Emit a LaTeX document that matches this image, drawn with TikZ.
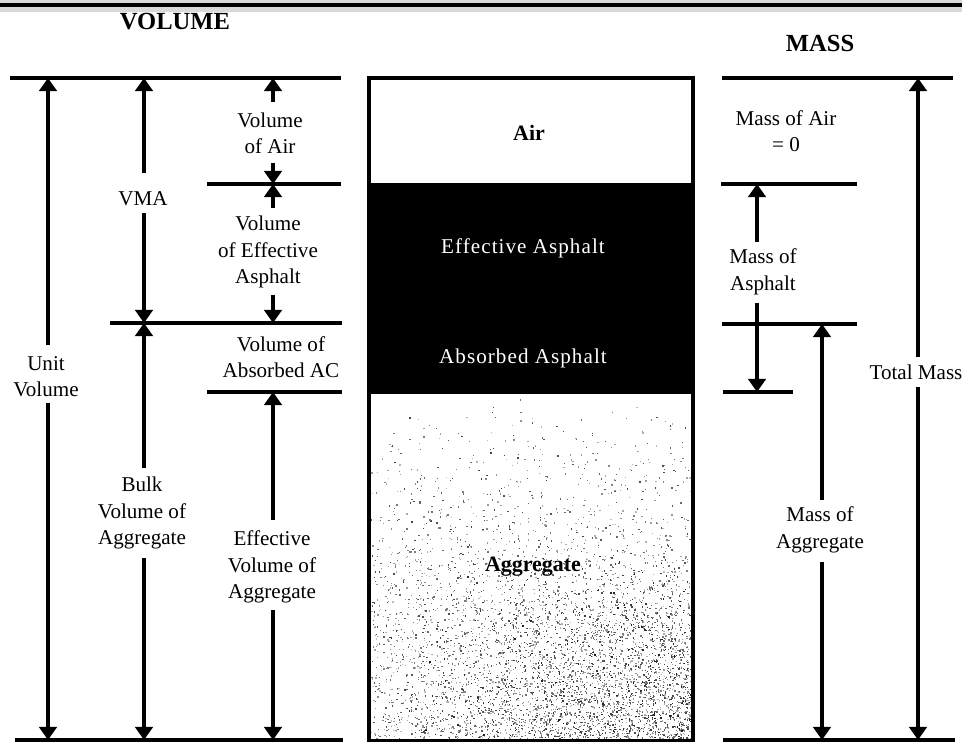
\documentclass[tikz,border=0pt]{standalone}
\usepackage{fontspec}
\setmainfont{Liberation Serif}
\usetikzlibrary{arrows.meta}
\begin{document}
\begin{tikzpicture}[x=0.02cm,y=-0.02cm,
  rule/.style={line width=2.6pt},
  arr/.style={line width=2.3pt,-{Triangle[width=10pt,length=7.5pt]}},
  lbl/.style={align=center,inner sep=0pt,font=\fontsize{12}{15}\selectfont},
  ttl/.style={inner sep=0pt,font=\bfseries\fontsize{14}{16}\selectfont},
  inlbl/.style={inner sep=0pt,text=white,font=\fontsize{12}{15}\selectfont\addfontfeature{LetterSpace=5}},
  boldlbl/.style={inner sep=0pt,font=\bfseries\fontsize{12.5}{15}\selectfont}]
\useasboundingbox (0,0) rectangle (962,742);
% frame at top
\fill[black!15] (0,0) rectangle (962,12);
\fill[black] (0,3) rectangle (962,7.5);
% titles
\node[ttl] (vol) at (175,22) {VOLUME};
\node[ttl] (mass) at (820,43) {MASS};
% centre block: stippled aggregate
\pgfmathsetseed{7}
\foreach \i in {1,...,3000}{
  \pgfmathsetmacro\xx{371+320*rnd}
  \pgfmathsetmacro\yy{396+342*sqrt(rnd)}
  \pgfmathsetmacro\gg{int(25+50*rnd)}
  \fill[black!\gg] (\xx,\yy) rectangle ++(1.3,1.3);
}
\foreach \i in {1,...,2200}{
  \pgfmathsetmacro\xx{390+301*sqrt(rnd)}
  \pgfmathsetmacro\yy{540+198*sqrt(rnd)}
  \pgfmathsetmacro\gg{int(30+60*rnd)}
  \fill[black!\gg] (\xx,\yy) rectangle ++(1.3,1.3);
}
\fill[black] (369,183) rectangle (693,394);
\draw[line width=2.2pt] (369,78) rectangle (693,741);
\node[boldlbl] (air) at (529,133) {Air};
\node[inlbl] (ea) at (523,248) {Effective Asphalt};
\node[inlbl] (aa) at (523,358) {Absorbed Asphalt};
\node[boldlbl] (agg) at (533,567) {Aggregate};
% left rules
\draw[rule] (10,78) -- (341,78);
\draw[rule] (207,184) -- (341,184);
\draw[rule] (110,323) -- (342,323);
\draw[rule] (207,392) -- (342,392);
\draw[rule] (15,740) -- (343,740);
% right rules
\draw[rule] (722,78) -- (953,78);
\draw[rule] (721,184) -- (857,184);
\draw[rule] (722,324) -- (857,324);
\draw[rule] (723,392) -- (793,392);
\draw[rule] (723,740) -- (955,740);
% left labels
\node[lbl] (uv) at (46,377) {Unit\\Volume};
\node[lbl] (vma) at (143,199) {VMA};
\node[lbl] (bulk) at (142,513) {Bulk\\Volume of\\Aggregate};
\node[lbl] (vair) at (270,133) {Volume\\of Air};
\node[lbl] (vea) at (268,252) {Volume\\of Effective\\Asphalt};
\node[lbl] (vab) at (281,357) {Volume of\\Absorbed AC};
\node[lbl] (evag) at (272,567) {Effective\\Volume of\\Aggregate};
% right labels
\node[lbl] (mair) at (786,131) {Mass of Air\\= 0};
\node[lbl] (masph) at (763,272) {Mass of\\Asphalt};
\node[lbl] (magg) at (820,530) {Mass of\\Aggregate};
\node[lbl] (tot) at (916,372) {Total Mass};
% arrow end coordinates
\coordinate (uvT) at (48,78);   \coordinate (uvA) at (48,345);
\coordinate (uvB) at (48,403);  \coordinate (uvE) at (48,740);
\coordinate (vmT) at (144,78);  \coordinate (vmA) at (144,173);
\coordinate (vmB) at (144,213); \coordinate (vmE) at (144,323);
\coordinate (bkT) at (144,323); \coordinate (bkA) at (144,468);
\coordinate (bkB) at (144,558); \coordinate (bkE) at (144,740);
\coordinate (vaT) at (273,78);  \coordinate (vaA) at (273,102);
\coordinate (vaB) at (273,163); \coordinate (vaE) at (273,184);
\coordinate (veT) at (273,184); \coordinate (veA) at (273,208);
\coordinate (veB) at (273,295); \coordinate (veE) at (273,323);
\coordinate (egT) at (273,392); \coordinate (egA) at (273,520);
\coordinate (egB) at (273,610); \coordinate (egE) at (273,740);
\coordinate (maT) at (757,184); \coordinate (maA) at (757,242);
\coordinate (maB) at (757,303); \coordinate (maE) at (757,392);
\coordinate (mgT) at (822,324); \coordinate (mgA) at (822,500);
\coordinate (mgB) at (822,562); \coordinate (mgE) at (822,740);
\coordinate (tmT) at (918,78);  \coordinate (tmA) at (918,357);
\coordinate (tmB) at (918,387); \coordinate (tmE) at (918,740);
% arrows
\foreach \p in {uv,vm,bk,va,ve,eg,ma,mg,tm}{
  \draw[arr] (\p A) -- (\p T);
  \draw[arr] (\p B) -- (\p E);
}
\end{tikzpicture}
\end{document}
